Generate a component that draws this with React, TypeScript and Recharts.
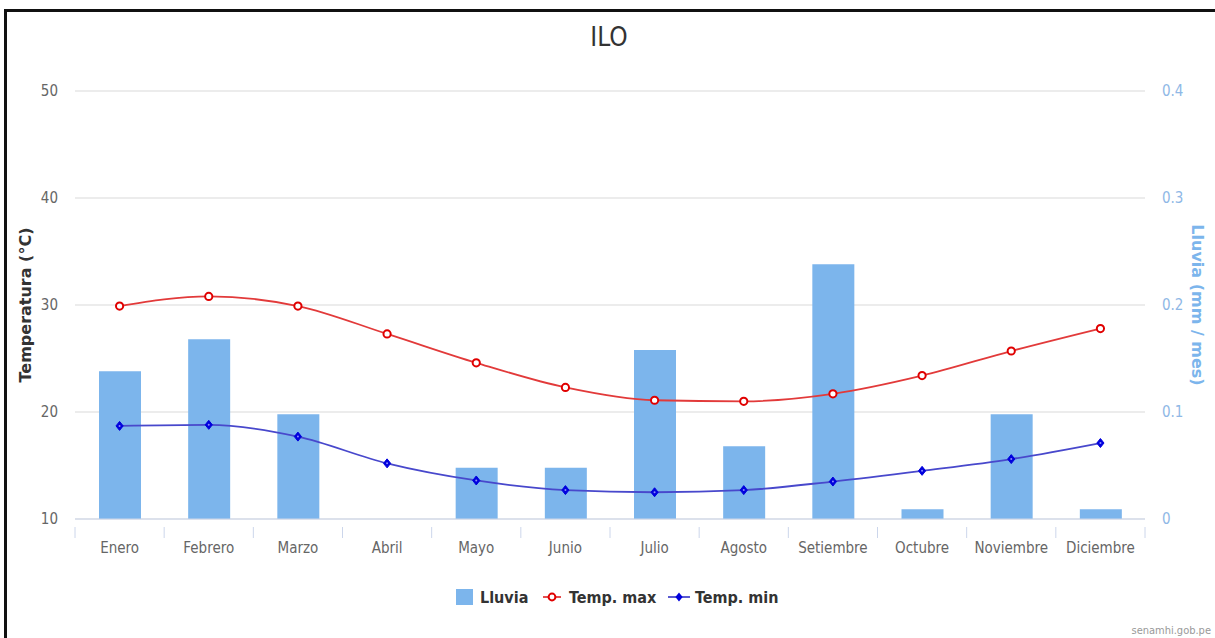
import { ComposedChart, Bar, Line, XAxis, YAxis, CartesianGrid } from "recharts";

const months = ["Enero", "Febrero", "Marzo", "Abril", "Mayo", "Junio", "Julio", "Agosto", "Setiembre", "Octubre", "Noviembre", "Diciembre"];
const lluvia = [0.138, 0.168, 0.098, 0, 0.048, 0.048, 0.158, 0.068, 0.238, 0.009, 0.098, 0.009];
const tempMax = [29.9, 30.8, 29.9, 27.3, 24.6, 22.3, 21.1, 21.0, 21.7, 23.4, 25.7, 27.8];
const tempMin = [18.7, 18.8, 17.7, 15.2, 13.6, 12.7, 12.5, 12.7, 13.5, 14.5, 15.6, 17.1];
const tempTicks = [10, 20, 30, 40, 50];
const rainTicks = [0, 0.1, 0.2, 0.3, 0.4];

const data = months.map((m, i) => ({
  month: m,
  lluvia: lluvia[i],
  max: tempMax[i],
  min: tempMin[i],
}));

const NARROW = '"DejaVu Sans", sans-serif';
const condensed = { fontStretch: "condensed" } as const;
const PLOT_W = 1070;
const BAND = PLOT_W / months.length;

function MonthTick(props: any) {
  const { x, y, payload, index } = props;
  const left = x - BAND / 2;
  return (
    <g>
      <line x1={left} y1={y} x2={left} y2={y + 11} stroke="#ccd6eb" />
      {index === months.length - 1 && (
        <line x1={left + BAND} y1={y} x2={left + BAND} y2={y + 11} stroke="#ccd6eb" />
      )}
      <text x={x} y={y + 26} textAnchor="middle" fill="#666" fontSize={15} fontFamily={NARROW} style={condensed}>
        {payload.value}
      </text>
    </g>
  );
}

function CircleDot(props: any) {
  const { cx, cy } = props;
  if (cx == null || cy == null) return null;
  return <circle cx={cx} cy={cy} r={3.6} fill="#fff" stroke="#e00000" strokeWidth={2} />;
}

function DiamondDot(props: any) {
  const { cx, cy } = props;
  if (cx == null || cy == null) return null;
  const s = 4.5;
  return (
    <g>
      <path d={`M${cx},${cy - s} L${cx + s * 0.8},${cy} L${cx},${cy + s} L${cx - s * 0.8},${cy} Z`} fill="#0000dd" stroke="#0000dd" strokeWidth={1} />
      <circle cx={cx} cy={cy} r={1} fill="#8a8aff" />
    </g>
  );
}

export default function App() {
  return (
    <div style={{ position: "absolute", left: 0, top: 0, width: 1215, height: 638, background: "#fff", overflow: "hidden" }}>
      <div style={{ position: "absolute", left: 4, top: 9, right: 0, bottom: 0, borderTop: "3px solid #111", borderLeft: "3px solid #111" }} />
      <ComposedChart
        width={1215}
        height={638}
        data={data}
        margin={{ top: 91, right: 0, bottom: 89, left: 0 }}
      >
        <CartesianGrid yAxisId="temp" vertical={false} stroke="#e6e6e6" strokeWidth={1.5} />
        <XAxis
          dataKey="month"
          height={30}
          axisLine={{ stroke: "#ccd6eb" }}
          tickLine={false}
          tick={<MonthTick />}
          interval={0}
        />
        <YAxis
          yAxisId="temp"
          orientation="left"
          width={75}
          domain={[10, 50]}
          ticks={tempTicks}
          axisLine={false}
          tickLine={false}
          tickSize={0}
          tickMargin={17}
          tick={{ fill: "#666", fontSize: 15, fontFamily: NARROW, style: condensed }}
        />
        <YAxis
          yAxisId="rain"
          orientation="right"
          width={70}
          domain={[0, 0.4]}
          ticks={rainTicks}
          axisLine={false}
          tickLine={false}
          tickSize={0}
          tickMargin={17}
          tick={{ fill: "#8fb8e6", fontSize: 15, fontFamily: NARROW, style: condensed }}
        />
        <Bar yAxisId="rain" dataKey="lluvia" fill="#7cb5ec" barSize={42} isAnimationActive={false} />
        <Line yAxisId="temp" type="monotone" dataKey="max" stroke="#e23a3a" strokeWidth={1.8} dot={<CircleDot />} activeDot={false} isAnimationActive={false} />
        <Line yAxisId="temp" type="monotone" dataKey="min" stroke="#4848cc" strokeWidth={1.8} dot={<DiamondDot />} activeDot={false} isAnimationActive={false} />
        <text x={609} y={46} textAnchor="middle" fill="#333" fontSize={26} fontFamily={NARROW} style={condensed}>
          ILO
        </text>
        <text
          x={31}
          y={305}
          transform="rotate(-90 31 305)"
          textAnchor="middle"
          fill="#333"
          fontSize={16}
          fontWeight="bold"
          fontFamily="DejaVu Sans, sans-serif"
        >
          Temperatura (°C)
        </text>
        <text
          x={1192}
          y={305}
          transform="rotate(90 1192 305)"
          textAnchor="middle"
          fill="#7cb5ec"
          fontSize={16}
          fontWeight="bold"
          fontFamily="DejaVu Sans, sans-serif"
        >
          Lluvia (mm / mes)
        </text>
        <g fontFamily={NARROW} fontSize={16} fontWeight={600} fill="#333" style={condensed}>
          <rect x={456} y={589} width={17} height={16} fill="#7cb5ec" />
          <text x={480} y={603}>Lluvia</text>
          <line x1={543} y1={597} x2={561} y2={597} stroke="#e23a3a" strokeWidth={1.8} />
          <circle cx={552} cy={597} r={3.4} fill="#fff" stroke="#e00000" strokeWidth={2} />
          <text x={569} y={603}>Temp. max</text>
          <line x1={668} y1={597} x2={690} y2={597} stroke="#4848cc" strokeWidth={1.8} />
          <path d="M679,592.5 L682.6,597 L679,601.5 L675.4,597 Z" fill="#0000dd" />
          <text x={695} y={603}>Temp. min</text>
        </g>
        <text x={1211} y={634} textAnchor="end" fill="#999" fontSize={11} fontFamily={NARROW} style={condensed}>
          senamhi.gob.pe
        </text>
      </ComposedChart>
    </div>
  );
}
